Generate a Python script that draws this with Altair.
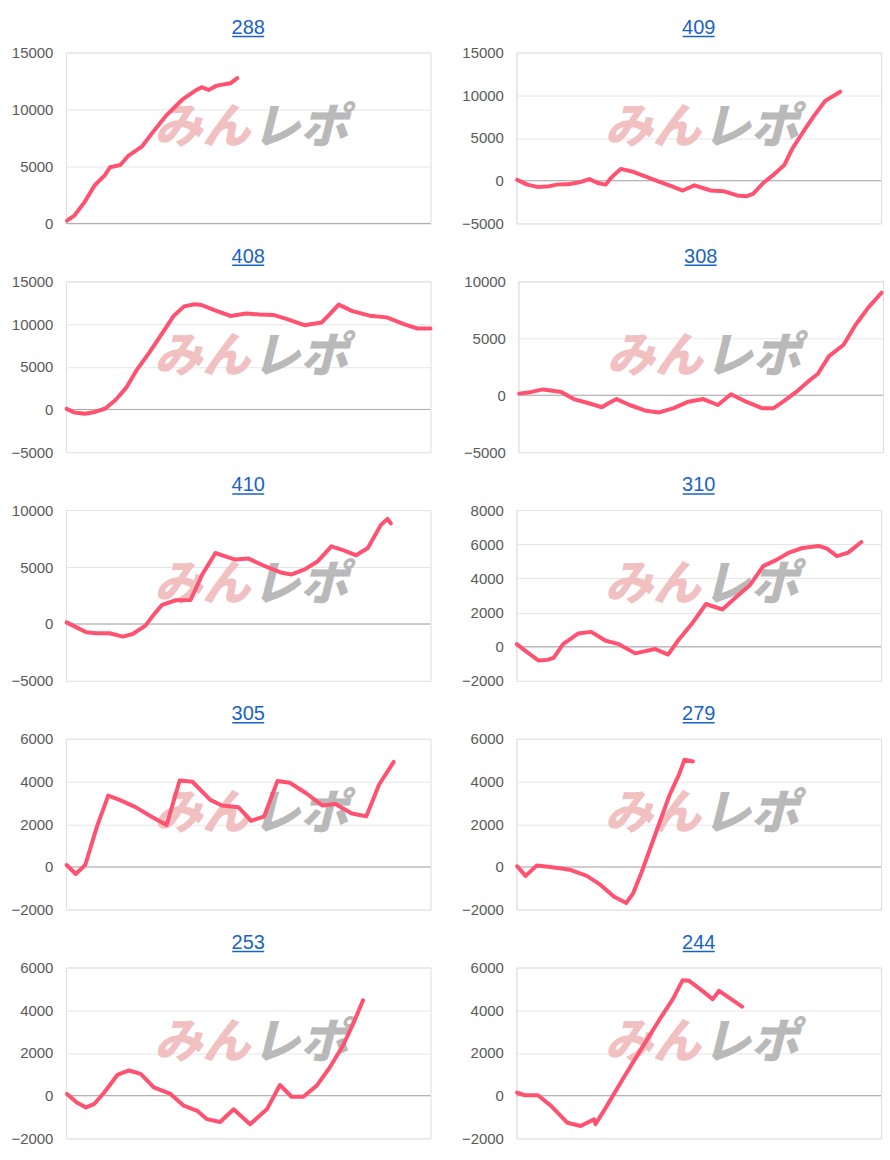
import altair as alt
import pandas as pd

# ---- data (x = position along the horizontal axis, 0..100) ----
S288_X = [0.3, 2.3, 5.1, 7.9, 10.7, 12.1, 14.9, 17.2, 20.9, 23.7, 27.4, 32.1, 35.8, 37.2, 39.1, 41.4, 45.1, 47.0]
S288_Y = [250, 680, 1870, 3350, 4240, 4930, 5130, 5960, 6770, 7950, 9440, 10920, 11720, 11960, 11720, 12100, 12300, 12760]

S409_X = [0.2, 3.0, 5.7, 8.4, 11.1, 14.6, 17.3, 20.0, 22.3, 24.5, 25.9, 28.6, 31.7, 35.3, 38.9, 42.5, 45.6, 48.8,
          53.3, 56.8, 60.5, 63.2, 64.9, 67.7, 70.3, 73.5, 75.7, 78.9, 82.0, 84.7, 88.8]
S409_Y = [100, -460, -730, -690, -460, -380, -190, 190, -270, -460, 310, 1380, 1080, 500, -80, -650, -1150, -540,
          -1150, -1230, -1730, -1810, -1540, -270, 620, 1850, 3770, 5880, 7810, 9350, 10420]

S408_X = [0.2, 2.4, 5.2, 8.0, 10.8, 13.6, 16.5, 19.3, 23.0, 26.8, 29.6, 32.4, 35.3, 37.2, 40.9, 45.2, 49.4, 53.2,
          56.9, 60.7, 65.4, 70.1, 72.0, 74.8, 78.6, 83.3, 88.0, 92.7, 96.4, 100.0]
S408_Y = [70, -370, -500, -290, 110, 1110, 2520, 4540, 6750, 9160, 10980, 12070, 12310, 12230, 11590, 10940, 11230,
          11110, 11070, 10580, 9860, 10180, 10980, 12270, 11510, 10980, 10780, 9980, 9480, 9480]

S308_X = [0.2, 3.6, 6.7, 9.9, 11.7, 15.2, 18.8, 22.9, 24.7, 26.9, 30.5, 35.0, 38.6, 42.6, 46.6, 50.7, 54.7, 58.3,
          61.9, 66.8, 70.0, 72.6, 76.2, 79.8, 82.1, 85.2, 89.2, 92.4, 96.0, 99.6]
S308_Y = [140, 290, 510, 370, 290, -340, -660, -1060, -710, -340, -860, -1370, -1510, -1140, -570, -340, -860, 90,
          -490, -1140, -1140, -570, 290, 1290, 1860, 3430, 4430, 6140, 7710, 9000]

S410_X = [0.2, 2.9, 5.6, 8.3, 12.0, 15.6, 18.3, 21.8, 24.2, 26.4, 30.1, 34.2, 37.4, 41.0, 43.7, 46.5, 50.1, 54.6,
          59.2, 61.9, 65.5, 69.1, 72.8, 76.4, 79.6, 82.8, 86.4, 88.2, 89.1]
S410_Y = [140, -300, -730, -820, -820, -1110, -880, -150, 860, 1680, 2080, 2110, 4340, 6230, 5940, 5650, 5740, 5070,
          4490, 4350, 4790, 5510, 6820, 6440, 6030, 6670, 8700, 9220, 8840]

S310_X = [0.1, 3.0, 6.1, 8.4, 10.2, 12.8, 16.9, 20.5, 24.5, 28.1, 32.6, 38.0, 41.6, 44.3, 48.0, 52.0, 56.5, 60.5,
          64.1, 67.7, 71.2, 74.8, 78.4, 82.9, 85.2, 87.9, 91.0, 94.6]
S310_Y = [150, -330, -810, -770, -650, 150, 770, 870, 350, 150, -390, -130, -460, 350, 1310, 2500, 2180, 2950,
          3620, 4720, 5070, 5510, 5780, 5900, 5740, 5300, 5510, 6130]

S305_X = [0.2, 2.7, 5.3, 8.5, 11.6, 14.7, 19.1, 23.6, 27.6, 31.2, 34.7, 39.6, 42.8, 47.3, 50.8, 54.4, 58.0, 61.4,
          65.9, 70.3, 73.9, 78.4, 82.4, 85.9, 89.9]
S305_Y = [90, -330, 90, 1890, 3340, 3140, 2800, 2340, 1960, 4050, 3990, 3140, 2880, 2800, 2160, 2370, 4020, 3940,
          3450, 2880, 2950, 2500, 2370, 3860, 4920]

S279_X = [0.2, 2.5, 5.6, 9.9, 14.6, 19.3, 23.0, 26.8, 30.1, 32.0, 34.3, 38.1, 41.9, 44.7, 46.1, 48.4]
S279_Y = [30, -420, 70, -20, -130, -420, -830, -1400, -1690, -1240, -260, 1530, 3320, 4370, 5020, 4940]

S253_X = [0.3, 3.0, 5.5, 7.7, 10.5, 14.1, 17.3, 20.5, 24.1, 28.7, 32.3, 36.0, 38.7, 42.3, 46.0, 50.5, 55.1, 58.7,
          61.9, 65.1, 68.8, 72.4, 76.0, 78.8, 81.5]
S253_Y = [80, -320, -550, -400, 150, 970, 1180, 1020, 390, 80, -470, -710, -1100, -1230, -640, -1340, -640, 500,
          -50, -50, 470, 1330, 2350, 3370, 4470]

S244_X = [0.2, 2.3, 5.9, 9.5, 14.0, 17.6, 21.3, 21.7, 24.8, 29.4, 33.9, 39.3, 42.9, 45.6, 47.4, 51.0, 53.8, 55.6,
          58.3, 61.9]
S244_Y = [140, 20, 20, -480, -1270, -1420, -1110, -1340, -480, 840, 2090, 3580, 4520, 5410, 5380, 4910, 4520, 4910,
          4590, 4170]

TICKS_A = [0, 5000, 10000, 15000]
TICKS_B = [-5000, 0, 5000, 10000, 15000]
TICKS_C = [-5000, 0, 5000, 10000]
TICKS_D = [-2000, 0, 2000, 4000, 6000, 8000]
TICKS_E = [-2000, 0, 2000, 4000, 6000]

PANELS = [
    ("288", S288_X, S288_Y, TICKS_A), ("409", S409_X, S409_Y, TICKS_B),
    ("408", S408_X, S408_Y, TICKS_B), ("308", S308_X, S308_Y, TICKS_C),
    ("410", S410_X, S410_Y, TICKS_C), ("310", S310_X, S310_Y, TICKS_D),
    ("305", S305_X, S305_Y, TICKS_E), ("279", S279_X, S279_Y, TICKS_E),
    ("253", S253_X, S253_Y, TICKS_E), ("244", S244_X, S244_Y, TICKS_E),
]

W = 365
H = 171
LINE = "#ff5270"
TITLE_BLUE = "#1a63c6"
FONT = "Liberation Sans"


def panel(name, xs, ys, ticks):
    df = pd.DataFrame({"x": xs, "y": ys})
    yenc = alt.Y(
        "y:Q",
        scale=alt.Scale(domain=[min(ticks), max(ticks)], nice=False, zero=False),
        axis=alt.Axis(values=ticks, title=None, grid=True, ticks=False, domain=True,
                      domainColor="#e2e2e2", gridColor="#e6e6e6", labelPadding=13,
                      labelFontSize=15, labelColor="#5a5a5a", labelFont=FONT, format="d"),
    )
    xenc = alt.X("x:Q", scale=alt.Scale(domain=[0, 100], nice=False, zero=False), axis=None)

    wm_pink = alt.Chart(pd.DataFrame({"t": ["みん"]})).mark_text(
        font="Noto Sans CJK JP", fontSize=48, fontWeight=900, fontStyle="italic",
        color="#f1c0c0", align="right", baseline="middle"
    ).encode(x=alt.value(W / 2 + 2), y=alt.value(H / 2 - 9), text="t:N")
    wm_gray = alt.Chart(pd.DataFrame({"t": ["レポ"]})).mark_text(
        font="Noto Sans CJK JP", fontSize=48, fontWeight=900, fontStyle="italic",
        color="#b9b9b9", align="left", baseline="middle"
    ).encode(x=alt.value(W / 2 + 4), y=alt.value(H / 2 - 9), text="t:N")

    zero = alt.Chart(pd.DataFrame({"y": [0]})).mark_rule(color="#a9a9a9", strokeWidth=1).encode(y=yenc)
    line = alt.Chart(df).mark_line(
        color=LINE, strokeWidth=4, strokeJoin="round", strokeCap="round"
    ).encode(x=xenc, y=yenc)
    underline = alt.Chart(pd.DataFrame({"t": [name]})).mark_rule(
        color=TITLE_BLUE, strokeWidth=1.5
    ).encode(x=alt.value(W / 2 - 16), x2=alt.value(W / 2 + 16), y=alt.value(-16))

    return alt.layer(wm_pink, wm_gray, zero, line, underline).properties(
        width=W, height=H,
        title=alt.TitleParams(name, font=FONT, fontSize=20, fontWeight="normal",
                              color=TITLE_BLUE, anchor="middle", offset=-2),
    )


rows = []
for i in range(0, len(PANELS), 2):
    rows.append(alt.hconcat(panel(*PANELS[i]), panel(*PANELS[i + 1]), spacing=29))

chart = alt.vconcat(*rows, spacing=13).properties(
    padding={"left": 10, "top": 16, "right": 5, "bottom": 5}
).configure_view(stroke=None).configure(background="white")

chart.save("out.html", embed_options={"renderer": "svg", "actions": False})
